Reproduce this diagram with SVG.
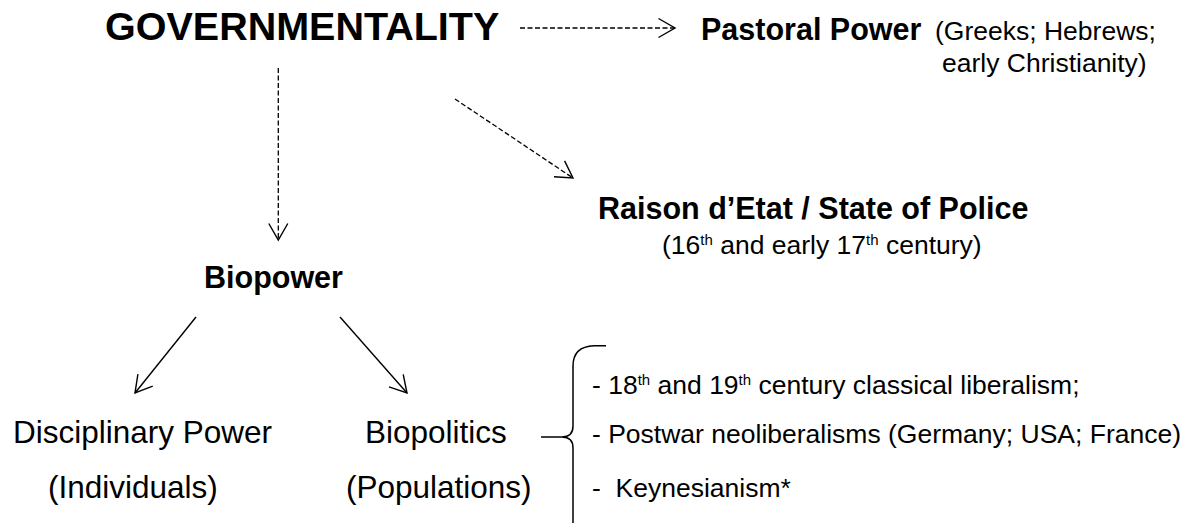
<svg xmlns="http://www.w3.org/2000/svg" width="1192" height="523" viewBox="0 0 1192 523">
  <style>
    text { font-family: "Liberation Sans", Arial, Helvetica, sans-serif; fill: #000; }
    .title { font-size: 39.5px; font-weight: bold; }
    .head { font-size: 30.5px; font-weight: bold; }
    .note { font-size: 26.5px; }
    .label { font-size: 31.5px; }
    .sup { font-size: 15px; }
    .dash { fill: none; stroke: #000; stroke-width: 1.3; stroke-dasharray: 5 2.5; }
    .solid { fill: none; stroke: #000; stroke-width: 1.4; }
    .brace { fill: none; stroke: #000; stroke-width: 1.5; }
  </style>
  <defs>
    <!-- open chevron head shared by every connector -->
    <marker id="open-arrow" markerUnits="userSpaceOnUse" viewBox="-20 -12 22 24" markerWidth="22" markerHeight="24" refX="0" refY="0" orient="auto" overflow="visible">
      <path d="M -16.5 -9.5 L 0 0 L -16.5 9.5" fill="none" stroke="#000" stroke-width="1.4" stroke-dasharray="none"/>
    </marker>
  </defs>

  <rect width="1192" height="523" fill="#fff"/>

  <!-- connectors -->
  <g id="connectors">
    <path class="dash" d="M 520 28 L 675 28" marker-end="url(#open-arrow)"/>
    <path class="dash" d="M 278.3 68 L 278.3 240" marker-end="url(#open-arrow)"/>
    <path class="dash" d="M 455 99 L 573 178" marker-end="url(#open-arrow)"/>
    <path class="solid" d="M 196 317 L 135 393" marker-end="url(#open-arrow)"/>
    <path class="solid" d="M 340 317 L 407 393" marker-end="url(#open-arrow)"/>
  </g>

  <g id="n-governmentality">
    <text class="title" x="105" y="40">GOVERNMENTALITY</text>
  </g>

  <g id="n-pastoral">
    <text class="head" x="701" y="40">Pastoral Power</text>
    <text class="note" x="935" y="40">(Greeks; Hebrews;</text>
    <text class="note" x="942" y="72">early Christianity)</text>
  </g>

  <g id="n-raison">
    <text class="head" x="598" y="219">Raison d’Etat / State of Police</text>
    <text class="note" x="662" y="254">(16<tspan class="sup" dy="-9">th</tspan><tspan dy="9"> and early 17</tspan><tspan class="sup" dy="-9">th</tspan><tspan dy="9"> century)</tspan></text>
  </g>

  <g id="n-biopower">
    <text class="head" x="204" y="288">Biopower</text>
  </g>

  <g id="n-disciplinary">
    <text class="label" x="13" y="443">Disciplinary Power</text>
    <text class="label" x="48" y="498">(Individuals)</text>
  </g>

  <g id="n-biopolitics">
    <text class="label" x="365" y="443">Biopolitics</text>
    <text class="label" x="346" y="498">(Populations)</text>
  </g>

  <g id="n-liberalisms">
    <path class="brace" d="M 606 345.7 L 594 345.7 Q 573 346.5 573 366 L 573 426 Q 573 437 562 437 L 541 437 M 562 437 Q 573 437 573 448 L 573 526"/>
    <text class="note" x="592" y="394">- 18<tspan class="sup" dy="-9">th</tspan><tspan dy="9"> and 19</tspan><tspan class="sup" dy="-9">th</tspan><tspan dy="9"> century classical liberalism;</tspan></text>
    <text class="note" x="592" y="443">- Postwar neoliberalisms (Germany; USA; France)</text>
    <text class="note" x="592" y="497" xml:space="preserve">-  Keynesianism*</text>
  </g>
</svg>
